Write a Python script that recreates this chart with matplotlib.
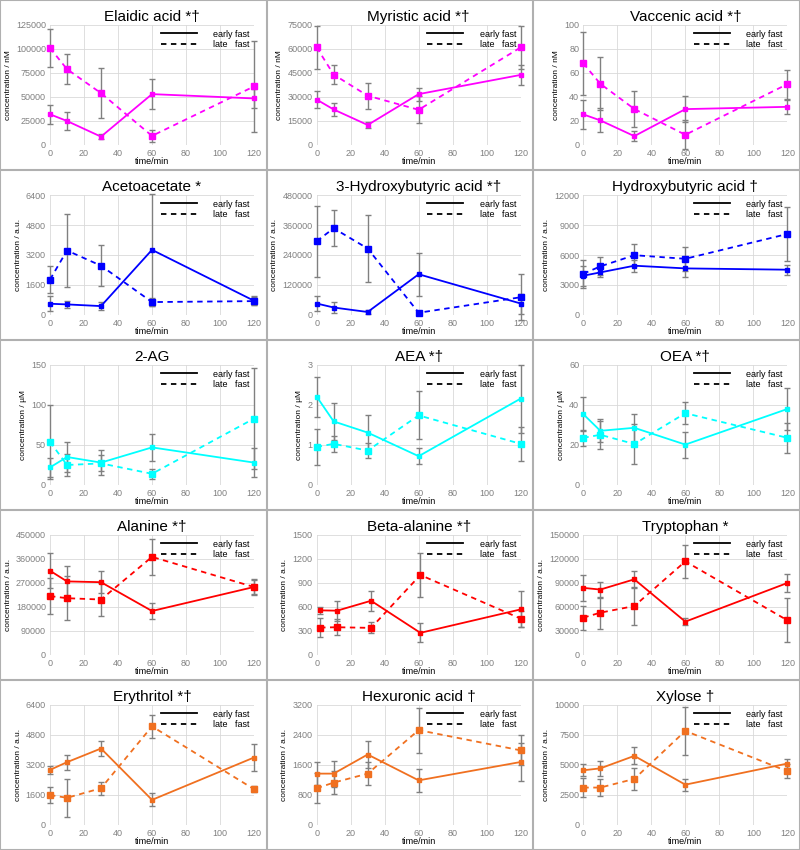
import numpy as np
import matplotlib
matplotlib.use("Agg")
import matplotlib.pyplot as plt
from matplotlib.lines import Line2D

plt.rcParams['font.family'] = ['Liberation Sans', 'DejaVu Sans']

time = [0, 10, 30, 60, 120]
time_bala = [2, 12, 32, 61, 120]

# row 1 - fatty acids
elaidic_early = [32000, 25000, 8700, 53000, 48500]
elaidic_early_err = [10000, 9000, 2500, 16000, 10000]
elaidic_late = [101000, 79000, 54000, 9500, 61000]
elaidic_late_err = [20000, 15500, 26000, 6000, 47000]

myristic_early = [28400, 22200, 12500, 31800, 43800]
myristic_early_err = [5500, 4000, 2000, 4000, 6000]
myristic_late = [61000, 44000, 30800, 22000, 61000]
myristic_late_err = [13500, 6000, 8000, 8500, 13500]

vaccenic_early = [25.5, 20.5, 7.4, 29.9, 31.8]
vaccenic_early_err = [12, 10, 4, 11, 6]
vaccenic_late = [68, 51, 30, 8.5, 50.7]
vaccenic_late_err = [26, 22, 15, 12, 12]

# row 2 - ketone bodies
acetoacetate_early = [600, 565, 475, 3475, 760]
acetoacetate_early_err = [400, 200, 200, 3000, 250]
acetoacetate_late = [1890, 3440, 2630, 690, 740]
acetoacetate_late_err = [720, 1950, 1100, 200, 200]

hb3_early = [46000, 30000, 12000, 163000, 46000]
hb3_early_err = [30000, 22000, 8000, 85000, 40000]
hb3_late = [295000, 347000, 266000, 9000, 71000]
hb3_late_err = [141000, 72000, 135000, 5000, 92000]

hb_early = [3930, 4260, 4930, 4660, 4530]
hb_early_err = [1000, 500, 600, 900, 500]
hb_late = [4130, 4860, 5980, 5620, 8100]
hb_late_err = [1400, 900, 1100, 1200, 2700]

# row 3 - endocannabinoids
ag2_early = [22, 35, 28, 47, 28]
ag2_early_err = [12, 19, 16, 17, 18]
ag2_late = [54, 25, 27, 14, 83]
ag2_late_err = [46, 14, 10, 6, 63]

aea_early = [2.21, 1.59, 1.31, 0.72, 2.16]
aea_early_err = [0.5, 0.47, 0.43, 0.2, 0.85]
aea_late = [0.95, 1.03, 0.86, 1.74, 1.03]
aea_late_err = [0.45, 0.2, 0.18, 0.6, 0.42]

oea_early = [35.4, 27.1, 28.6, 20.2, 38]
oea_early_err = [8.5, 5.8, 7, 6.5, 10.5]
oea_late = [23.6, 25.1, 20.5, 35.9, 23.6]
oea_late_err = [4, 7, 10, 5.6, 7.5]

# row 4 - amino acids
alanine_early = [316000, 276000, 273000, 165000, 255000]
alanine_early_err = [65000, 56000, 41000, 29000, 30000]
alanine_late = [221000, 213000, 208000, 368000, 255000]
alanine_late_err = [66000, 83000, 63000, 67000, 25000]

bala_early = [558, 554, 678, 277, 570]
bala_early_err = [40, 125, 125, 120, 225]
bala_late = [343, 347, 339, 1000, 455]
bala_late_err = [120, 100, 70, 270, 100]

trp_early = [83900, 81800, 94600, 41700, 90000]
trp_early_err = [16000, 10000, 11000, 4000, 11000]
trp_late = [46700, 52900, 61200, 117000, 43400]
trp_late_err = [15000, 20000, 24000, 21000, 27500]

# row 5 - sugars
erythritol_early = [2940, 3350, 4080, 1340, 3600]
erythritol_early_err = [200, 400, 400, 350, 700]
erythritol_late = [1600, 1450, 1960, 5260, 1910]
erythritol_late_err = [450, 1000, 350, 600, 150]

hexuronic_early = [1370, 1370, 1880, 1190, 1680]
hexuronic_early_err = [300, 350, 350, 300, 500]
hexuronic_late = [980, 1130, 1370, 2530, 1990]
hexuronic_late_err = [400, 300, 300, 600, 400]

xylose_early = [4560, 4720, 5760, 3360, 5120]
xylose_early_err = [500, 600, 700, 500, 400]
xylose_late = [3120, 3120, 3840, 7840, 4480]
xylose_late_err = [800, 700, 900, 2000, 600]

titles = ["Elaidic acid *\u2020", "Myristic acid *\u2020", "Vaccenic acid *\u2020",
          "Acetoacetate *", "3-Hydroxybutyric acid *\u2020", "Hydroxybutyric acid \u2020",
          "2-AG", "AEA *\u2020", "OEA *\u2020",
          "Alanine *\u2020", "Beta-alanine *\u2020", "Tryptophan *",
          "Erythritol *\u2020", "Hexuronic acid \u2020", "Xylose \u2020"]
units = ["nM", "a.u.", "\u00b5M", "a.u.", "a.u."]
ytop = [125000, 75000, 100, 6400, 480000, 12000, 150, 3, 60,
        450000, 1500, 150000, 6400, 3200, 10000]
ystep = [25000, 15000, 20, 1600, 120000, 3000, 50, 1, 20,
         90000, 300, 30000, 1600, 800, 2500]
row_colors = ["#ff00ff", "#0000ff", "#00ffff", "#ff0000", "#f07020"]

series = [
    (time, elaidic_early, elaidic_early_err, elaidic_late, elaidic_late_err),
    (time, myristic_early, myristic_early_err, myristic_late, myristic_late_err),
    (time, vaccenic_early, vaccenic_early_err, vaccenic_late, vaccenic_late_err),
    (time, acetoacetate_early, acetoacetate_early_err, acetoacetate_late, acetoacetate_late_err),
    (time, hb3_early, hb3_early_err, hb3_late, hb3_late_err),
    (time, hb_early, hb_early_err, hb_late, hb_late_err),
    (time, ag2_early, ag2_early_err, ag2_late, ag2_late_err),
    (time, aea_early, aea_early_err, aea_late, aea_late_err),
    (time, oea_early, oea_early_err, oea_late, oea_late_err),
    (time, alanine_early, alanine_early_err, alanine_late, alanine_late_err),
    (time_bala, bala_early, bala_early_err, bala_late, bala_late_err),
    (time, trp_early, trp_early_err, trp_late, trp_late_err),
    (time, erythritol_early, erythritol_early_err, erythritol_late, erythritol_late_err),
    (time, hexuronic_early, hexuronic_early_err, hexuronic_late, hexuronic_late_err),
    (time, xylose_early, xylose_early_err, xylose_late, xylose_late_err),
]

W, H = 800, 850
fig = plt.figure(figsize=(W / 100, H / 100), dpi=100)
cw, ch = W / 3, H / 5

dash = (0, (3, 2.5))
leg_handles = [Line2D([], [], color="black", lw=1.3),
               Line2D([], [], color="black", lw=1.3, ls=dash)]
leg_labels = ["early fast", "late   fast"]

for i, (t, early, early_err, late, late_err) in enumerate(series):
    r, c = divmod(i, 3)
    col = row_colors[r]
    x0 = c * cw + 50
    y0 = H - (r * ch + 145)
    ax = fig.add_axes([x0 / W, y0 / H, 204 / W, 120 / H])

    for vals, errs in ((early, early_err), (late, late_err)):
        eb = ax.errorbar(t, vals, yerr=errs, fmt="none", ecolor="#808080",
                         elinewidth=1, capsize=2, capthick=1, zorder=2)
        for art in eb.lines[1] + eb.lines[2]:
            art.set_clip_on(False)

    ax.plot(t, early, "-", color=col, lw=1.3, marker="s", ms=2.5,
            zorder=3, clip_on=False)
    ax.plot(t, late, color=col, lw=1.3, ls=dash, marker="s", ms=5,
            zorder=3, clip_on=False)

    ax.set_xlim(0, 120)
    ax.set_ylim(0, ytop[i])
    ax.set_xticks(range(0, 121, 20))
    ax.set_yticks(np.arange(0, ytop[i] + ystep[i] / 2, ystep[i]))
    ax.tick_params(length=0, labelsize=6.5, labelcolor="#808080", pad=3)
    ax.grid(color="#d9d9d9", lw=0.6)
    ax.set_axisbelow(True)
    for s in ax.spines.values():
        s.set_visible(False)

    ax.set_title(titles[i], fontsize=11, pad=3)
    ax.set_xlabel("time/min", fontsize=6.5, labelpad=-1)
    ax.set_ylabel("concentration / " + units[r], fontsize=6, labelpad=3)
    ax.legend(leg_handles, leg_labels, loc="upper right", frameon=False,
              fontsize=6.5, handlelength=4, handletextpad=1.8,
              labelspacing=0.15, borderaxespad=0.3, borderpad=0.2)

# gray frame around panels
for k in range(4):
    x = k * cw / W
    fig.add_artist(Line2D([x, x], [0, 1], color="#b0b0b0", lw=1.5,
                          transform=fig.transFigure))
for k in range(6):
    y = k * ch / H
    fig.add_artist(Line2D([0, 1], [y, y], color="#b0b0b0", lw=1.5,
                          transform=fig.transFigure))

fig.savefig("out.png", dpi=100)
